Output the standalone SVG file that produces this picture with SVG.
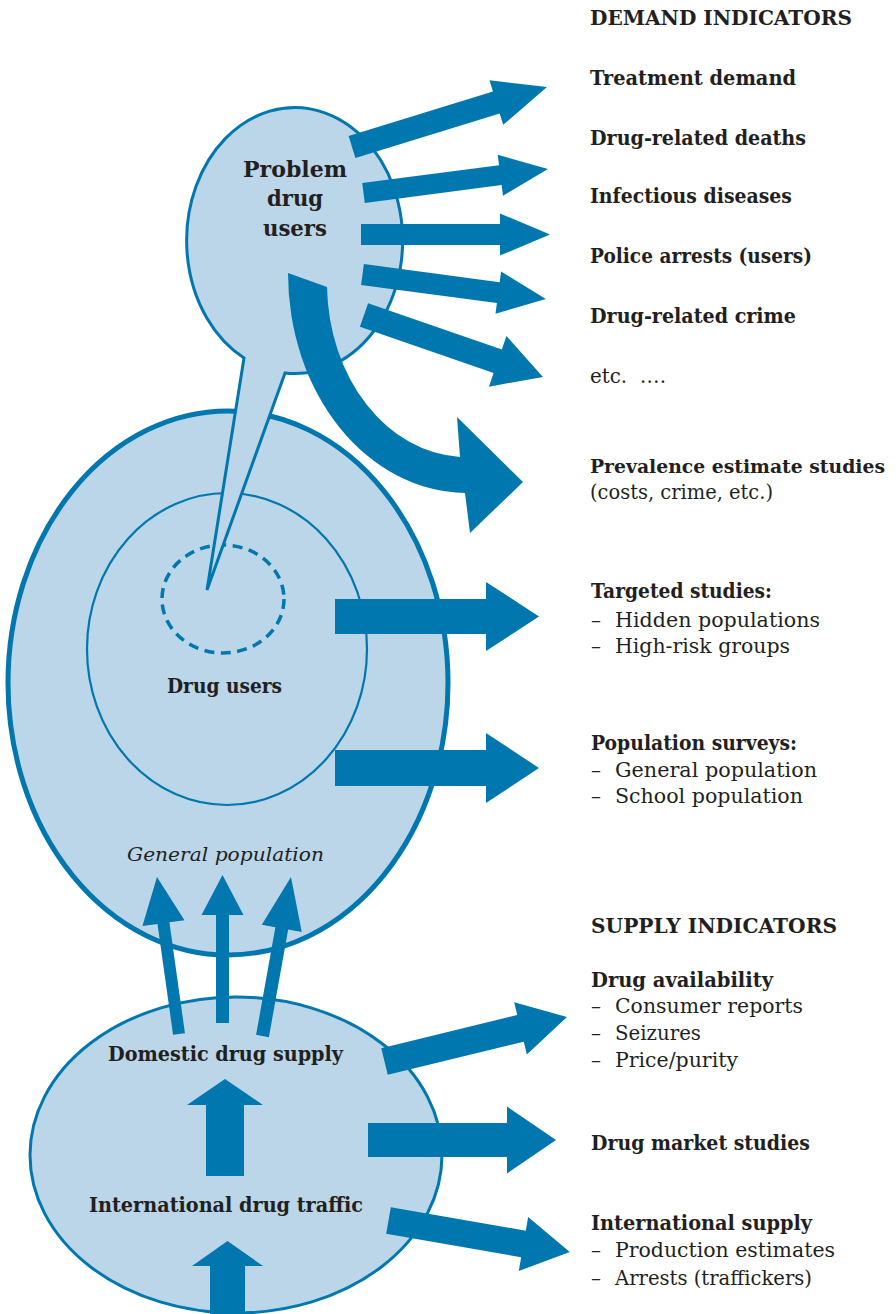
<svg xmlns="http://www.w3.org/2000/svg" width="896" height="1314" viewBox="0 0 896 1314">
<defs>
<style>
.arrow { fill: #0077ae; stroke: none; }
.node { fill: #bad6e8; stroke: #0077ae; }
.b { font-family: "DejaVu Serif", "Liberation Serif", serif; font-weight: bold; font-size: 21px; fill: #231f20; }
.r { font-family: "DejaVu Serif", "Liberation Serif", serif; font-size: 20px; fill: #231f20; }
.i { font-family: "DejaVu Serif", "Liberation Serif", serif; font-style: italic; font-size: 19px; fill: #231f20; }
</style>
</defs>
<rect width="896" height="1314" fill="#ffffff"/>

<g id="general-population">
  <ellipse class="node" cx="228" cy="683" rx="220" ry="272" stroke-width="5"/>
  <text class="i" x="127" y="861" textLength="197" lengthAdjust="spacingAndGlyphs">General population</text>
</g>

<g id="drug-users">
  <ellipse class="node" cx="227" cy="649" rx="140" ry="156" stroke-width="2.2"/>
  <ellipse cx="223" cy="599" rx="61" ry="54" fill="none" stroke="#0077ae" stroke-width="3.5" stroke-dasharray="10 6.5"/>
  <text class="b" x="167" y="693" style="font-size:20px" textLength="115" lengthAdjust="spacingAndGlyphs">Drug users</text>
</g>

<g id="problem-drug-users">
  <path class="node" stroke-width="3" stroke-linejoin="miter" d="M244,358 A108,133 0 1,1 285,373 L207,590 Z"/>
  <text class="b" style="font-size:22px" x="243" y="177" textLength="104" lengthAdjust="spacingAndGlyphs">Problem</text>
  <text class="b" style="font-size:22px" x="267" y="206" textLength="56" lengthAdjust="spacingAndGlyphs">drug</text>
  <text class="b" style="font-size:22px" x="263" y="236" textLength="64" lengthAdjust="spacingAndGlyphs">users</text>
</g>

<g id="supply-ellipse">
  <ellipse class="node" cx="236" cy="1155" rx="206" ry="158" stroke-width="3"/>
  <text class="b" x="108" y="1061" style="font-size:20px" textLength="235" lengthAdjust="spacingAndGlyphs">Domestic drug supply</text>
  <text class="b" x="89" y="1212" style="font-size:20px" textLength="274" lengthAdjust="spacingAndGlyphs">International drug traffic</text>
</g>

<g id="connectors">
  <polygon class="arrow" transform="translate(352,147) rotate(-17.1)" points="0,-11.5 151,-11.5 151,-23.3 204,0 151,23.3 151,11.5 0,11.5"/>
  <polygon class="arrow" transform="translate(363.5,193) rotate(-7.41)" points="0,-10 138,-10 138,-20.6 186,0 138,20.6 138,10 0,10"/>
  <polygon class="arrow" transform="translate(361,234.5)" points="0,-10.5 139,-10.5 139,-21 189,0 139,21 139,10.5 0,10.5"/>
  <polygon class="arrow" transform="translate(362.5,274.5) rotate(7.6)" points="0,-10.5 137,-10.5 137,-21.2 185,0 137,21.2 137,10.5 0,10.5"/>
  <polygon class="arrow" transform="translate(364,315) rotate(19.1)" points="0,-12.5 141.5,-12.5 141.5,-26.8 189.4,0 141.5,26.8 141.5,12.5 0,12.5"/>
  <path class="arrow" d="M288,273 A179,220 0 0,0 465,493 L470,533 L523,482 L457,417 L460,457 A140,174 0 0,1 327,287 Z"/>
  <polygon class="arrow" transform="translate(335,616.5)" points="0,-17.5 151,-17.5 151,-34.5 204,0 151,34.5 151,17.5 0,17.5"/>
  <polygon class="arrow" transform="translate(335,768)" points="0,-18 151,-18 151,-35 204,0 151,35 151,18 0,18"/>
  <polygon class="arrow" transform="translate(179,1034) rotate(-97.98)" points="0,-6 112,-6 112,-21.2 158.5,0 112,21.2 112,6 0,6"/>
  <polygon class="arrow" transform="translate(222.5,1023) rotate(-90)" points="0,-6.5 108,-6.5 108,-21 148,0 108,21 108,6.5 0,6.5"/>
  <polygon class="arrow" transform="translate(262.5,1036) rotate(-79.84)" points="0,-6.5 109.3,-6.5 109.3,-20.3 161.5,0 109.3,20.3 109.3,6.5 0,6.5"/>
  <polygon class="arrow" transform="translate(225,1176) rotate(-90)" points="0,-19 71,-19 71,-38 97,0 71,38 71,19 0,19"/>
  <polygon class="arrow" transform="translate(227.5,1320) rotate(-90)" points="0,-17.5 54,-17.5 54,-35.5 79,0 54,35.5 54,17.5 0,17.5"/>
  <polygon class="arrow" transform="translate(384.5,1061.5) rotate(-13.7)" points="0,-13.75 140,-13.75 140,-26.8 187.8,0 140,26.8 140,13.75 0,13.75"/>
  <polygon class="arrow" transform="translate(368,1140)" points="0,-17 139,-17 139,-33.5 188,0 139,33.5 139,17 0,17"/>
  <polygon class="arrow" transform="translate(388.5,1220.5) rotate(9.85)" points="0,-13.5 137,-13.5 137,-27.4 184,0 137,27.4 137,13.5 0,13.5"/>
</g>

<g id="demand-indicators">
  <text class="b" x="590" y="25" textLength="262" lengthAdjust="spacingAndGlyphs">DEMAND INDICATORS</text>
  <text class="b" x="590" y="85" textLength="206" lengthAdjust="spacingAndGlyphs">Treatment demand</text>
  <text class="b" x="590" y="145" textLength="216" lengthAdjust="spacingAndGlyphs">Drug-related deaths</text>
  <text class="b" x="590" y="203" textLength="202" lengthAdjust="spacingAndGlyphs">Infectious diseases</text>
  <text class="b" x="590" y="263" textLength="222" lengthAdjust="spacingAndGlyphs">Police arrests (users)</text>
  <text class="b" x="590" y="323" textLength="206" lengthAdjust="spacingAndGlyphs">Drug-related crime</text>
  <text class="r" x="590" y="383" style="white-space:pre" textLength="76" lengthAdjust="spacingAndGlyphs">etc.  ….</text>
</g>

<g id="prevalence-studies">
  <text class="b" x="590" y="473" style="font-size:19px" textLength="295" lengthAdjust="spacingAndGlyphs">Prevalence estimate studies</text>
  <text class="r" x="590" y="499" textLength="183" lengthAdjust="spacingAndGlyphs">(costs, crime, etc.)</text>
</g>

<g id="targeted-studies">
  <text class="b" x="591" y="598" textLength="181" lengthAdjust="spacingAndGlyphs">Targeted studies:</text>
  <text class="r" y="627"><tspan x="591">–</tspan><tspan x="615" textLength="205" lengthAdjust="spacingAndGlyphs">Hidden populations</tspan></text>
  <text class="r" y="653"><tspan x="591">–</tspan><tspan x="615" textLength="175" lengthAdjust="spacingAndGlyphs">High-risk groups</tspan></text>
</g>

<g id="population-surveys">
  <text class="b" x="591" y="750" textLength="206" lengthAdjust="spacingAndGlyphs">Population surveys:</text>
  <text class="r" y="777"><tspan x="591">–</tspan><tspan x="615" textLength="202" lengthAdjust="spacingAndGlyphs">General population</tspan></text>
  <text class="r" y="803"><tspan x="591">–</tspan><tspan x="615" textLength="188" lengthAdjust="spacingAndGlyphs">School population</tspan></text>
</g>

<g id="supply-indicators">
  <text class="b" x="591" y="933" textLength="246" lengthAdjust="spacingAndGlyphs">SUPPLY INDICATORS</text>
</g>

<g id="drug-availability">
  <text class="b" x="591" y="987" textLength="182" lengthAdjust="spacingAndGlyphs">Drug availability</text>
  <text class="r" y="1013"><tspan x="591">–</tspan><tspan x="615" textLength="188" lengthAdjust="spacingAndGlyphs">Consumer reports</tspan></text>
  <text class="r" y="1040"><tspan x="591">–</tspan><tspan x="615" textLength="86" lengthAdjust="spacingAndGlyphs">Seizures</tspan></text>
  <text class="r" y="1067"><tspan x="591">–</tspan><tspan x="615" textLength="123" lengthAdjust="spacingAndGlyphs">Price/purity</tspan></text>
</g>

<g id="drug-market-studies">
  <text class="b" x="591" y="1150" textLength="219" lengthAdjust="spacingAndGlyphs">Drug market studies</text>
</g>

<g id="international-supply">
  <text class="b" x="591" y="1230" textLength="221" lengthAdjust="spacingAndGlyphs">International supply</text>
  <text class="r" y="1257"><tspan x="591">–</tspan><tspan x="615" textLength="220" lengthAdjust="spacingAndGlyphs">Production estimates</tspan></text>
  <text class="r" y="1285"><tspan x="591">–</tspan><tspan x="615" textLength="197" lengthAdjust="spacingAndGlyphs">Arrests (traffickers)</tspan></text>
</g>
</svg>
